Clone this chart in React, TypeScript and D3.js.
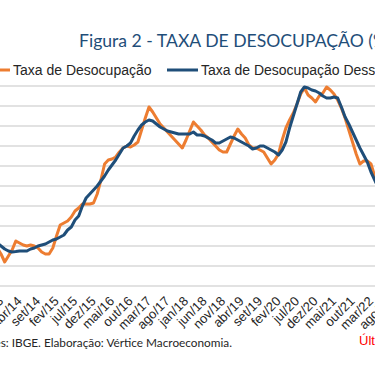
import React, { useRef, useEffect } from 'react';
import * as d3 from 'd3';

// one value per month, from out/13 to mai/22
const taxa = [
  6.9, 6.6, 6.2, 6.5, 6.8, 7.25, 7.15, 7.05, 7.0, 7.05, 7.0, 6.9, 6.7, 6.6, 6.6,
  6.9, 7.5, 8.05, 8.15, 8.25, 8.45, 8.75, 8.9, 9.1, 9.1, 9.1, 9.15,
  9.6, 10.3, 11.1, 11.3, 11.35, 11.45, 11.7, 11.9, 12.0, 11.95, 12.05, 12.2,
  12.8, 13.4, 13.95, 13.7, 13.4, 13.1, 12.9, 12.7, 12.5, 12.3, 12.1, 11.9,
  12.3, 12.75, 13.2, 13.0, 12.8, 12.55, 12.4, 12.2, 12.0, 11.8, 11.7, 11.7,
  12.1, 12.5, 12.85, 12.6, 12.4, 12.05, 11.9, 11.9, 11.8, 11.7, 11.4, 11.1,
  11.3, 11.6, 12.3, 12.9, 13.3, 13.65, 14.1, 14.6, 14.9, 14.55, 14.4, 14.2,
  14.5, 14.65, 14.95, 14.8, 14.6, 14.3, 13.9, 13.4, 12.8, 12.2, 11.6, 11.1,
  11.25, 11.25, 11.1, 10.5, 9.8,
];

const taxaDessaz = [
  7.15, 7.0, 6.85, 6.75, 6.7, 6.72, 6.75, 6.75, 6.75, 6.85, 6.9, 7.0, 7.05, 7.1, 7.2,
  7.3, 7.35, 7.45, 7.55, 7.8, 7.95, 8.3, 8.5, 9.0, 9.4, 9.6, 9.8,
  10.0, 10.25, 10.5, 10.8, 11.05, 11.3, 11.6, 11.9, 12.0, 12.15, 12.5, 12.8,
  13.05, 13.2, 13.3, 13.25, 13.1, 12.95, 12.85, 12.75, 12.7, 12.65, 12.6, 12.6,
  12.6, 12.6, 12.7, 12.55, 12.55, 12.5, 12.4, 12.3, 12.15, 12.15, 12.25, 12.35,
  12.45, 12.4, 12.3, 12.2, 12.1, 12.0, 11.85, 11.9, 12.0, 12.0, 11.9, 11.8,
  11.7, 11.55, 11.8, 12.2, 12.9, 13.5, 14.1, 14.7, 14.95, 14.9, 14.8, 14.75,
  14.65, 14.5, 14.4, 14.4, 14.45, 14.4, 13.95, 13.45, 13.1, 12.7, 12.3, 11.9,
  11.55, 11.2, 10.7, 10.3, 9.9,
];

const tickLabels = [
  'nov/13', 'abr/14', 'set/14', 'fev/15', 'jul/15', 'dez/15', 'mai/16', 'out/16',
  'mar/17', 'ago/17', 'jan/18', 'jun/18', 'nov/18', 'abr/19', 'set/19', 'fev/20',
  'jul/20', 'dez/20', 'mai/21', 'out/21', 'mar/22', 'ago/22',
];
// month offset (from out/13) of the first tick label, one label every 5 months
const firstTickOffset = 1;
const tickStep = 5;

const yTicks = [5, 6, 7, 8, 9, 10, 11, 12, 13, 14, 15];

const App = () => {
  const chartRef = useRef(null);

  useEffect(() => {
    const svg = d3.select(chartRef.current);
    svg.selectAll('*').remove();

    const width = 375;

    // plot area (the chart is cropped on the left and right)
    const xScale = d3.scaleLinear().domain([0, 41]).range([-2.7, 149]);
    const yScale = d3.scaleLinear().domain([5, 15]).range([286, 86]);

    // Title
    svg.append('text')
      .attr('x', 79)
      .attr('y', 47)
      .attr('font-family', 'Lato, sans-serif')
      .attr('font-size', 17.6)
      .attr('fill', '#1F4E79')
      .text('Figura 2 - TAXA DE DESOCUPAÇÃO (%)');

    // Legend
    const legend = svg.append('g')
      .attr('font-family', 'Liberation Sans, Arial, sans-serif')
      .attr('font-size', 14)
      .attr('fill', '#262626');
    legend.append('line').attr('x1', -20).attr('x2', 10).attr('y1', 70).attr('y2', 70)
      .attr('stroke', '#ED7D31').attr('stroke-width', 3);
    legend.append('text').attr('x', 13).attr('y', 75).text('Taxa de Desocupação');
    legend.append('line').attr('x1', 167).attr('x2', 198).attr('y1', 70).attr('y2', 70)
      .attr('stroke', '#1F4E79').attr('stroke-width', 3);
    legend.append('text').attr('x', 201).attr('y', 75).text('Taxa de Desocupação Dessazonalizada');

    // Gridlines
    svg.append('g')
      .selectAll('line')
      .data(yTicks)
      .enter().append('line')
      .attr('x1', -10)
      .attr('x2', width + 10)
      .attr('y1', d => yScale(d))
      .attr('y2', d => yScale(d))
      .attr('stroke', '#D9D9D9')
      .attr('stroke-width', 1.3);

    // Lines
    const line = d3.line<number>()
      .x((d, i) => xScale(i))
      .y(d => yScale(d));

    svg.append('path')
      .datum(taxa)
      .attr('d', line)
      .attr('fill', 'none')
      .attr('stroke', '#ED7D31')
      .attr('stroke-width', 3)
      .attr('stroke-linejoin', 'round');

    svg.append('path')
      .datum(taxaDessaz)
      .attr('d', line)
      .attr('fill', 'none')
      .attr('stroke', '#1F4E79')
      .attr('stroke-width', 3)
      .attr('stroke-linejoin', 'round');

    // X axis labels
    svg.append('g')
      .selectAll('text')
      .data(tickLabels)
      .enter().append('text')
      .attr('transform', (d, i) => `translate(${xScale(firstTickOffset + i * tickStep) + 3},${302}) rotate(-45)`)
      .attr('text-anchor', 'end')
      .attr('font-family', 'Liberation Sans, Arial, sans-serif')
      .attr('font-size', 13)
      .attr('fill', '#262626')
      .text(d => d);

    // Source
    svg.append('text')
      .attr('x', 232)
      .attr('y', 347)
      .attr('text-anchor', 'end')
      .attr('font-family', 'Lato, sans-serif')
      .attr('font-size', 11.8)
      .attr('fill', '#262626')
      .text('Fontes: IBGE. Elaboração: Vértice Macroeconomia.');

    svg.append('text')
      .attr('x', 359)
      .attr('y', 345)
      .attr('font-family', 'Liberation Sans, Arial, sans-serif')
      .attr('font-size', 13)
      .attr('fill', '#FF0000')
      .text('Último dado: mai/24');
  }, []);

  return (
    <svg
      ref={chartRef}
      width={375}
      height={366}
      style={{ position: 'absolute', left: 0, top: 0, background: '#FFFFFF' }}
    />
  );
};

export default App;
